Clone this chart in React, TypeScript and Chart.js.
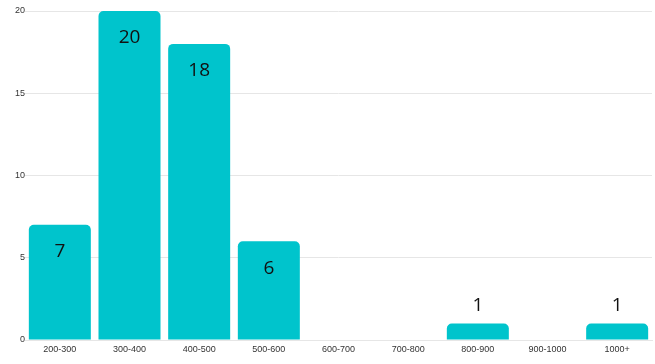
import React, { useEffect, useRef } from "react";
import { Chart, registerables } from "chart.js";

Chart.register(...registerables);

const categories = ["200-300", "300-400", "400-500", "500-600", "600-700", "700-800", "800-900", "900-1000", "1000+"];
const counts = [7, 20, 18, 6, 0, 0, 1, 0, 1];
const yTicks = [0, 5, 10, 15, 20];

const barLabels = {
  id: "barLabels",
  afterDatasetsDraw(chart: any) {
    const ctx = chart.ctx;
    const meta = chart.getDatasetMeta(0);
    const data = chart.data.datasets[0].data as number[];
    ctx.save();
    ctx.font = "19px 'Open Sans'";
    ctx.fillStyle = "#111";
    ctx.textAlign = "center";
    ctx.textBaseline = "middle";
    meta.data.forEach((bar: any, i: number) => {
      const v = data[i];
      if (!v) return;
      const h = bar.base - bar.y;
      const y = h > 40 ? bar.y + 27 : bar.y - 18;
      ctx.fillText(String(v), bar.x, y);
    });
    ctx.restore();
  },
};

export default function App() {
  const ref = useRef<HTMLCanvasElement>(null);
  useEffect(() => {
    document.body.style.margin = "0";
    const chart = new Chart(ref.current!, {
      type: "bar",
      data: {
        labels: categories,
        datasets: [
          {
            data: counts,
            backgroundColor: "#00C4CC",
            borderRadius: 5,
            borderSkipped: "bottom",
            categoryPercentage: 0.89,
            barPercentage: 1,
          },
        ],
      },
      plugins: [barLabels],
      options: {
        responsive: false,
        animation: false,
        layout: { padding: { top: 11, right: 3, left: 0, bottom: 0 } },
        plugins: { legend: { display: false }, tooltip: { enabled: false } },
        scales: {
          x: {
            grid: { display: false, drawTicks: false },
            border: { color: "#e6e6e6" },
            ticks: { color: "#333", font: { family: "'Liberation Sans'", size: 9 }, padding: 4, maxRotation: 0, autoSkip: false },
            afterFit(scale: any) { scale.height = 24; },
          },
          y: {
            min: 0,
            max: 20,
            afterBuildTicks(scale: any) { scale.ticks = yTicks.map((v) => ({ value: v })); },
            grid: { color: "#e6e6e6", drawTicks: false },
            border: { display: false },
            ticks: { color: "#333", font: { family: "'Liberation Sans'", size: 9 }, padding: 0 },
            afterFit(scale: any) { scale.width = 25; },
          },
        },
      },
    });
    return () => chart.destroy();
  }, []);
  return <canvas ref={ref} width={655} height={364} />;
}
